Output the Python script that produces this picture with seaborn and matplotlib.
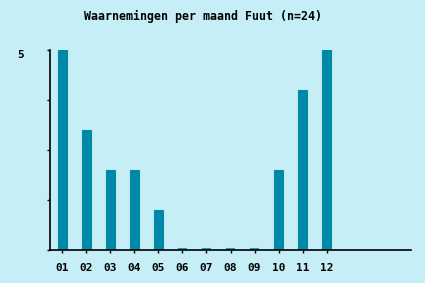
import matplotlib
matplotlib.use("Agg")
import matplotlib.pyplot as plt
import seaborn as sns
import pandas as pd

months = ["01", "02", "03", "04", "05", "06", "07", "08", "09", "10", "11", "12"]
counts = [5, 3, 2, 2, 1, 0, 0, 0, 0, 2, 4, 5]
title = "Waarnemingen per maand Fuut (n=24)"

bg = "#C6EEF6"
bar_color = "#0088A8"
zero_color = "#1A9AB6"

sns.set_theme(style="white")
plt.rcParams["font.family"] = ["DejaVu Sans Mono", "DejaVu Sans"]
plt.rcParams["font.weight"] = "bold"

fig = plt.figure(figsize=(4.25, 2.83), dpi=100, facecolor=bg)
ax = fig.add_axes([50/425, 1-250/283, 361/425, 200/283])
ax.set_facecolor(bg)

df = pd.DataFrame({"month": months, "count": counts})
sns.barplot(data=df, x="month", y="count", color=bar_color, width=0.375,
            saturation=1, ax=ax, edgecolor=bar_color, linewidth=0.8)
for p, c in zip(ax.patches, counts):
    if c == 0:
        p.set_edgecolor(zero_color)
        p.set_linewidth(2.9)

ax.set_xlim(-0.5, 14.5)
ax.set_ylim(0, 5)
ax.set_xlabel("")
ax.set_ylabel("")
ax.set_yticks([0, 1.25, 2.5, 3.75, 5])
ax.set_yticklabels(["", "", "", "", "5"], va="top")
ax.set_xticks(range(len(months)))
ax.set_xticklabels(months)
for s in ["top", "right"]:
    ax.spines[s].set_visible(False)
for s in ["left", "bottom"]:
    ax.spines[s].set_color("black")
    ax.spines[s].set_linewidth(1.2)
ax.tick_params(axis="y", direction="out", length=2.5, width=1, color="black",
               pad=16, labelsize=8, left=True)
ax.tick_params(axis="x", direction="out", length=2.5, width=1, color="black",
               pad=7, labelsize=8, bottom=True)
for t in ax.get_yticklabels() + ax.get_xticklabels():
    t.set_fontweight("bold")
    t.set_color("black")

fig.text(203.5/425, 1-16/283, title, ha="center", va="center",
         fontsize=8.4, fontweight="bold", color="black")

fig.savefig("out.png", dpi=100, facecolor=bg)
